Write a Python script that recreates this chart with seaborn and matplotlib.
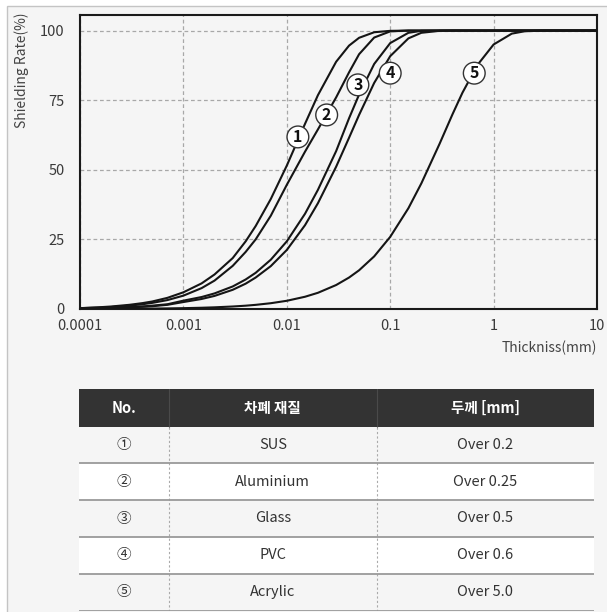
import numpy as np
import pandas as pd
import matplotlib
matplotlib.use("Agg")
import matplotlib.pyplot as plt
from matplotlib.patches import Rectangle
import seaborn as sns

# ---------------- data ----------------
thickness_mm = [1e-4, 1.5e-4, 2e-4, 3e-4, 4e-4, 5e-4, 7e-4,
                1e-3, 1.5e-3, 2e-3, 3e-3, 4e-3, 5e-3, 7e-3,
                1e-2, 1.5e-2, 2e-2, 3e-2, 4e-2, 5e-2, 7e-2,
                0.1, 0.15, 0.2, 0.3, 0.4, 0.5, 0.7,
                1, 1.5, 2, 3, 4, 5, 7, 10]

sus = [0.3, 0.6, 0.9, 1.5, 2.1, 2.7, 4.0,
       6.0, 9.2, 12.4, 18.3, 24.3, 29.8, 39.5,
       51.5, 66.5, 76.8, 88.8, 94.6, 97.4, 99.4,
       99.9, 100, 100, 100, 100, 100, 100,
       100, 100, 100, 100, 100, 100, 100, 100]
aluminium = [0.3, 0.5, 0.7, 1.2, 1.7, 2.2, 3.2,
             4.8, 7.5, 10.2, 15.5, 20.5, 25.0, 33.5,
             44.6, 56.5, 64.5, 76.0, 85.0, 91.5, 97.5,
             99.7, 100, 100, 100, 100, 100, 100,
             100, 100, 100, 100, 100, 100, 100, 100]
glass = [0.2, 0.3, 0.4, 0.7, 0.9, 1.2, 1.7,
         3.0, 4.3, 5.6, 8.1, 10.6, 13.0, 17.7,
         24.3, 34.2, 42.8, 56.7, 68.5, 77.0, 88.0,
         95.5, 99.2, 99.9, 100, 100, 100, 100,
         100, 100, 100, 100, 100, 100, 100, 100]
pvc = [0.2, 0.3, 0.4, 0.6, 0.8, 1.0, 1.5,
       2.5, 3.6, 4.7, 6.9, 9.1, 11.3, 15.4,
       21.2, 30.1, 38.0, 51.1, 61.5, 69.7, 81.2,
       90.8, 97.2, 99.2, 99.9, 100, 100, 100,
       100, 100, 100, 100, 100, 100, 100, 100]
acrylic = [0.03, 0.05, 0.06, 0.09, 0.12, 0.15, 0.21,
           0.3, 0.45, 0.6, 0.9, 1.19, 1.49, 2.08,
           2.95, 4.4, 5.82, 8.61, 11.3, 13.9, 18.9,
           25.9, 36.2, 45.1, 59.3, 69.9, 77.7, 87.7,
           95.0, 98.9, 99.75, 99.99, 100, 100, 100, 100]

curve_ids = ["1", "2", "3", "4", "5"]
label_x = [0.0128, 0.0243, 0.0487, 0.100, 0.65]
label_y = [61.8, 69.7, 80.5, 84.7, 84.7]

x_ticks = [0.0001, 0.001, 0.01, 0.1, 1, 10]
x_ticklabels = ["0.0001", "0.001", "0.01", "0.1", "1", "10"]
y_ticks = [0, 25, 50, 75, 100]

table_no = ["①", "②", "③", "④", "⑤"]
table_material = ["SUS", "Aluminium", "Glass", "PVC", "Acrylic"]
table_thickness = ["Over 0.2", "Over 0.25", "Over 0.5", "Over 0.6", "Over 5.0"]
table_header = ["No.", "차폐 재질", "두께 [mm]"]

# ---------------- style ----------------
sns.set_theme(style="white")
plt.rcParams["font.family"] = ["Noto Sans CJK KR", "DejaVu Sans"]

BG = "#f5f5f5"
W, H = 607, 612
fig = plt.figure(figsize=(W / 100, H / 100), dpi=100)
fig.patch.set_facecolor("white")

# outer panel
fig.add_artist(Rectangle((7 / W, -0.05), 1.2, 1 - 5.7 / H + 0.05,
                         transform=fig.transFigure, facecolor=BG,
                         edgecolor="#c4c4c4", linewidth=1.0, zorder=0))

ax = fig.add_axes([80 / W, 1 - 309 / H, (597 - 80) / W, (309 - 14.7) / H])
ax.set_facecolor(BG)

series = [sus, aluminium, glass, pvc, acrylic]
df = pd.concat([pd.DataFrame({"thickness": thickness_mm, "rate": s, "curve": cid})
                for s, cid in zip(series, curve_ids)], ignore_index=True)

sns.lineplot(data=df, x="thickness", y="rate", hue="curve",
             palette=["#151515"] * 5, linewidth=1.5, legend=False,
             ax=ax, zorder=3)

ax.set_xscale("log")
ax.set_xlim(1e-4, 10)
ax.set_ylim(0, 105.7)
ax.set_xticks(x_ticks)
ax.set_xticklabels(x_ticklabels)
ax.minorticks_off()
ax.set_yticks(y_ticks)
ax.tick_params(axis="both", length=0, labelsize=10.5, labelcolor="#3a3a3a")
ax.tick_params(axis="y", pad=11)
ax.tick_params(axis="x", pad=7)
ax.grid(True, which="major", color="#a8a8a8", linestyle=(0, (3, 2.2)), linewidth=0.9)
ax.set_axisbelow(True)
for side, sp in ax.spines.items():
    sp.set_visible(True)
    sp.set_color("#1a1a1a")
    sp.set_linewidth(1.5)
ax.set_xlabel("")
ax.set_ylabel("")

for cid, lx, ly in zip(curve_ids, label_x, label_y):
    ax.text(lx, ly, cid, ha="center", va="center", fontsize=11.5,
            fontweight="bold", color="#111111", zorder=5,
            bbox=dict(boxstyle="circle,pad=0.18", facecolor="white",
                      edgecolor="#333333", linewidth=1.0))

fig.text(22 / W, 1 - 12 / H, "Shielding Rate(%)", rotation=90, ha="center",
         va="top", fontsize=10, color="#444444")
fig.text(597 / W, 1 - 348 / H, "Thickniss(mm)", ha="right", va="center",
         fontsize=10, color="#444444")

# ---------------- table ----------------
tx0, tx1 = 79, 594
ty0, ty1 = 389, 611
tax = fig.add_axes([tx0 / W, 1 - ty1 / H, (tx1 - tx0) / W, (ty1 - ty0) / H])
tw = tx1 - tx0
th = ty1 - ty0
tax.set_xlim(0, tw)
tax.set_ylim(th, 0)
tax.axis("off")

col_edges = [0, 90, 297.7, tw]
col_centers = [(col_edges[i] + col_edges[i + 1]) / 2 for i in range(3)]
header_h = 37.5
row_h = (th - 0.5 - header_h) / 5

tax.add_patch(Rectangle((0, 0), tw, header_h, facecolor="#333333",
                        edgecolor="none", zorder=1))
for ce in col_edges[1:-1]:
    tax.plot([ce, ce], [0, header_h], color="#4a4a4a", linewidth=0.8, zorder=2)
for cc, txt in zip(col_centers, table_header):
    tax.text(cc, header_h / 2, txt, ha="center", va="center", color="white",
             fontsize=10.5, fontweight="bold", zorder=3)

for i in range(5):
    y0 = header_h + i * row_h
    fc = BG if i % 2 == 0 else "white"
    tax.add_patch(Rectangle((0, y0), tw, row_h, facecolor=fc,
                            edgecolor="none", zorder=1))
    tax.plot([0, tw], [y0 + row_h, y0 + row_h], color="#9a9a9a",
             linewidth=1.3, zorder=3)
    row = [table_no[i], table_material[i], table_thickness[i]]
    for cc, txt in zip(col_centers, row):
        tax.text(cc, y0 + row_h / 2, txt, ha="center", va="center",
                 color="#333333", fontsize=10.5, zorder=4)

for ce in col_edges[1:-1]:
    tax.plot([ce, ce], [header_h, header_h + 5 * row_h], color="#aaaaaa",
             linewidth=0.8, linestyle=(0, (2, 2)), zorder=2)

fig.savefig("out.png", dpi=100, facecolor=fig.get_facecolor())
